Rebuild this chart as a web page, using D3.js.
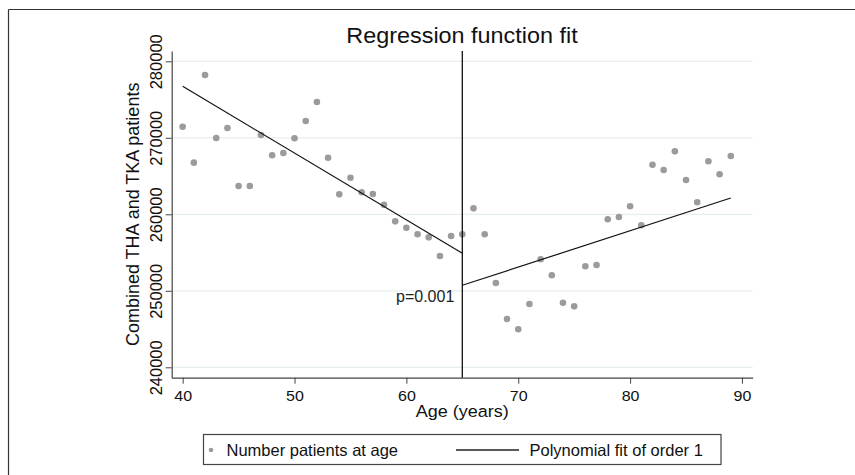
<!DOCTYPE html>
<html>
<head>
<meta charset="utf-8">
<script src="https://cdn.jsdelivr.net/npm/d3@7"></script>
<style>
  body { margin: 0; background: #fff; }
  svg { display: block; font-family: "Liberation Sans", Arial, Helvetica, sans-serif; }
</style>
</head>
<body>
<svg id="chart" width="855" height="475"></svg>
<script>
// Data
var ages = [40, 41, 42, 43, 44, 45, 46, 47, 48, 49, 50, 51, 52, 53, 54, 55, 56, 57, 58, 59, 60, 61, 62, 63, 64,
            65, 66, 67, 68, 69, 70, 71, 72, 73, 74, 75, 76, 77, 78, 79, 80, 81, 82, 83, 84, 85, 86, 87, 88, 89];
var patients = [271450, 266750, 278200, 269970, 271280, 263700, 263700, 270370, 267710, 268010,
                269940, 272200, 274680, 267400, 262610, 264780, 262880, 262650, 261250, 259080,
                258250, 257390, 256990, 254550, 257160, 257390, 260780, 257390, 251020, 246310,
                244970, 248280, 254120, 252030, 248440, 247970, 253200, 253370, 259350, 259650,
                261050, 258560, 266480, 265790, 268230, 264480, 261570, 266930, 265230, 267620];
var fitLeft = [[40, 276730], [65, 254900]];
var fitRight = [[65, 250720], [89, 262130]];
var cutoff = 65;
var xTicks = [40, 50, 60, 70, 80, 90];
var yTicks = [240000, 250000, 260000, 270000, 280000];

var svg = d3.select("#chart");
var plot = {left: 171.7, right: 752.7, top: 51, bottom: 377.7};

var x = d3.scaleLinear().domain([39.02, 90.96]).range([plot.left, plot.right]);
var y = d3.scaleLinear().domain([238641, 281346]).range([plot.bottom, plot.top]);

// outer frame (top and left edges only visible)
svg.append("line").attr("x1", 8.5).attr("x2", 855).attr("y1", 9.5).attr("y2", 9.5)
    .attr("stroke", "#333").attr("stroke-width", 1.2);
svg.append("line").attr("x1", 8.5).attr("x2", 8.5).attr("y1", 9.5).attr("y2", 475)
    .attr("stroke", "#333").attr("stroke-width", 1.2);

// gridlines
svg.append("g").selectAll("line")
    .data(yTicks)
    .enter().append("line")
      .attr("x1", plot.left).attr("x2", plot.right)
      .attr("y1", function(d) { return y(d); })
      .attr("y2", function(d) { return y(d); })
      .attr("stroke", "#e6eeee")
      .attr("stroke-width", 1.2);

// X axis
var gx = svg.append("g")
    .attr("transform", "translate(0," + plot.bottom + ")")
    .call(d3.axisBottom(x).tickValues(xTicks).tickSize(6).tickSizeOuter(0));
gx.select(".domain").attr("stroke", "#444").attr("stroke-width", 1.2);
gx.selectAll(".tick line").attr("stroke", "#444");
gx.selectAll(".tick text")
    .attr("y", 23.5).attr("dy", 0)
    .attr("transform", "scale(1.07,1)")
    .attr("fill", "#111")
    .attr("font-size", "15px")
    .attr("font-family", "Liberation Sans, Arial, sans-serif");

svg.append("text")
    .attr("transform", "translate(" + ((plot.left + plot.right) / 2) + ",417) scale(1.06,1)")
    .attr("text-anchor", "middle")
    .attr("font-size", "17px")
    .attr("fill", "#111")
    .text("Age (years)");

// Y axis
var gy = svg.append("g")
    .attr("transform", "translate(" + plot.left + ",0)")
    .call(d3.axisLeft(y).tickValues(yTicks).tickSize(6).tickSizeOuter(0).tickFormat(d3.format("d")));
gy.select(".domain").attr("stroke", "#444").attr("stroke-width", 1.2);
gy.selectAll(".tick line").attr("stroke", "#444");
gy.selectAll(".tick text")
    .attr("transform", "rotate(-90)")
    .attr("x", 0).attr("y", -9.7).attr("dy", 0)
    .attr("text-anchor", "middle")
    .attr("fill", "#111")
    .attr("font-size", "16.5px")
    .attr("font-family", "Liberation Sans, Arial, sans-serif");

svg.append("text")
    .attr("transform", "translate(139," + ((plot.top + plot.bottom) / 2) + ") rotate(-90)")
    .attr("text-anchor", "middle")
    .attr("font-size", "18px")
    .attr("fill", "#111")
    .text("Combined THA and TKA patients");

// Title
svg.append("text")
    .attr("transform", "translate(462,43) scale(1.04,1)")
    .attr("text-anchor", "middle")
    .attr("font-size", "22.5px")
    .attr("fill", "#111")
    .text("Regression function fit");

// points
svg.append("g").selectAll("circle")
    .data(ages)
    .enter().append("circle")
      .attr("cx", function(d) { return x(d); })
      .attr("cy", function(d, i) { return y(patients[i]); })
      .attr("r", 3.3)
      .attr("fill", "#9b9b9b");

// fit lines
var line = d3.line()
    .x(function(d) { return x(d[0]); })
    .y(function(d) { return y(d[1]); });

[fitLeft, fitRight].forEach(function(f) {
  svg.append("path")
      .attr("d", line(f))
      .attr("fill", "none")
      .attr("stroke", "#111")
      .attr("stroke-width", 1.2);
});

// cutoff line
svg.append("line")
    .attr("x1", x(cutoff)).attr("x2", x(cutoff))
    .attr("y1", plot.top).attr("y2", plot.bottom)
    .attr("stroke", "#111")
    .attr("stroke-width", 1.3);

svg.append("text")
    .attr("x", x(cutoff) - 8)
    .attr("y", 301.5)
    .attr("text-anchor", "end")
    .attr("font-size", "16px")
    .attr("fill", "#222")
    .text("p=0.001");

// legend
var legend = svg.append("g");
legend.append("rect")
    .attr("x", 203.5).attr("y", 434.5)
    .attr("width", 517.5).attr("height", 30)
    .attr("fill", "#fff")
    .attr("stroke", "#444")
    .attr("stroke-width", 1.2);
legend.append("circle")
    .attr("cx", 211).attr("cy", 450).attr("r", 2.3)
    .attr("fill", "#9b9b9b");
legend.append("text")
    .attr("x", 226.5).attr("y", 456)
    .attr("font-size", "16.5px")
    .attr("fill", "#111")
    .text("Number patients at age");
legend.append("line")
    .attr("x1", 456).attr("x2", 519).attr("y1", 450).attr("y2", 450)
    .attr("stroke", "#222").attr("stroke-width", 1.3);
legend.append("text")
    .attr("x", 529.5).attr("y", 456)
    .attr("font-size", "16.5px")
    .attr("fill", "#111")
    .text("Polynomial fit of order 1");
</script>
</body>
</html>
